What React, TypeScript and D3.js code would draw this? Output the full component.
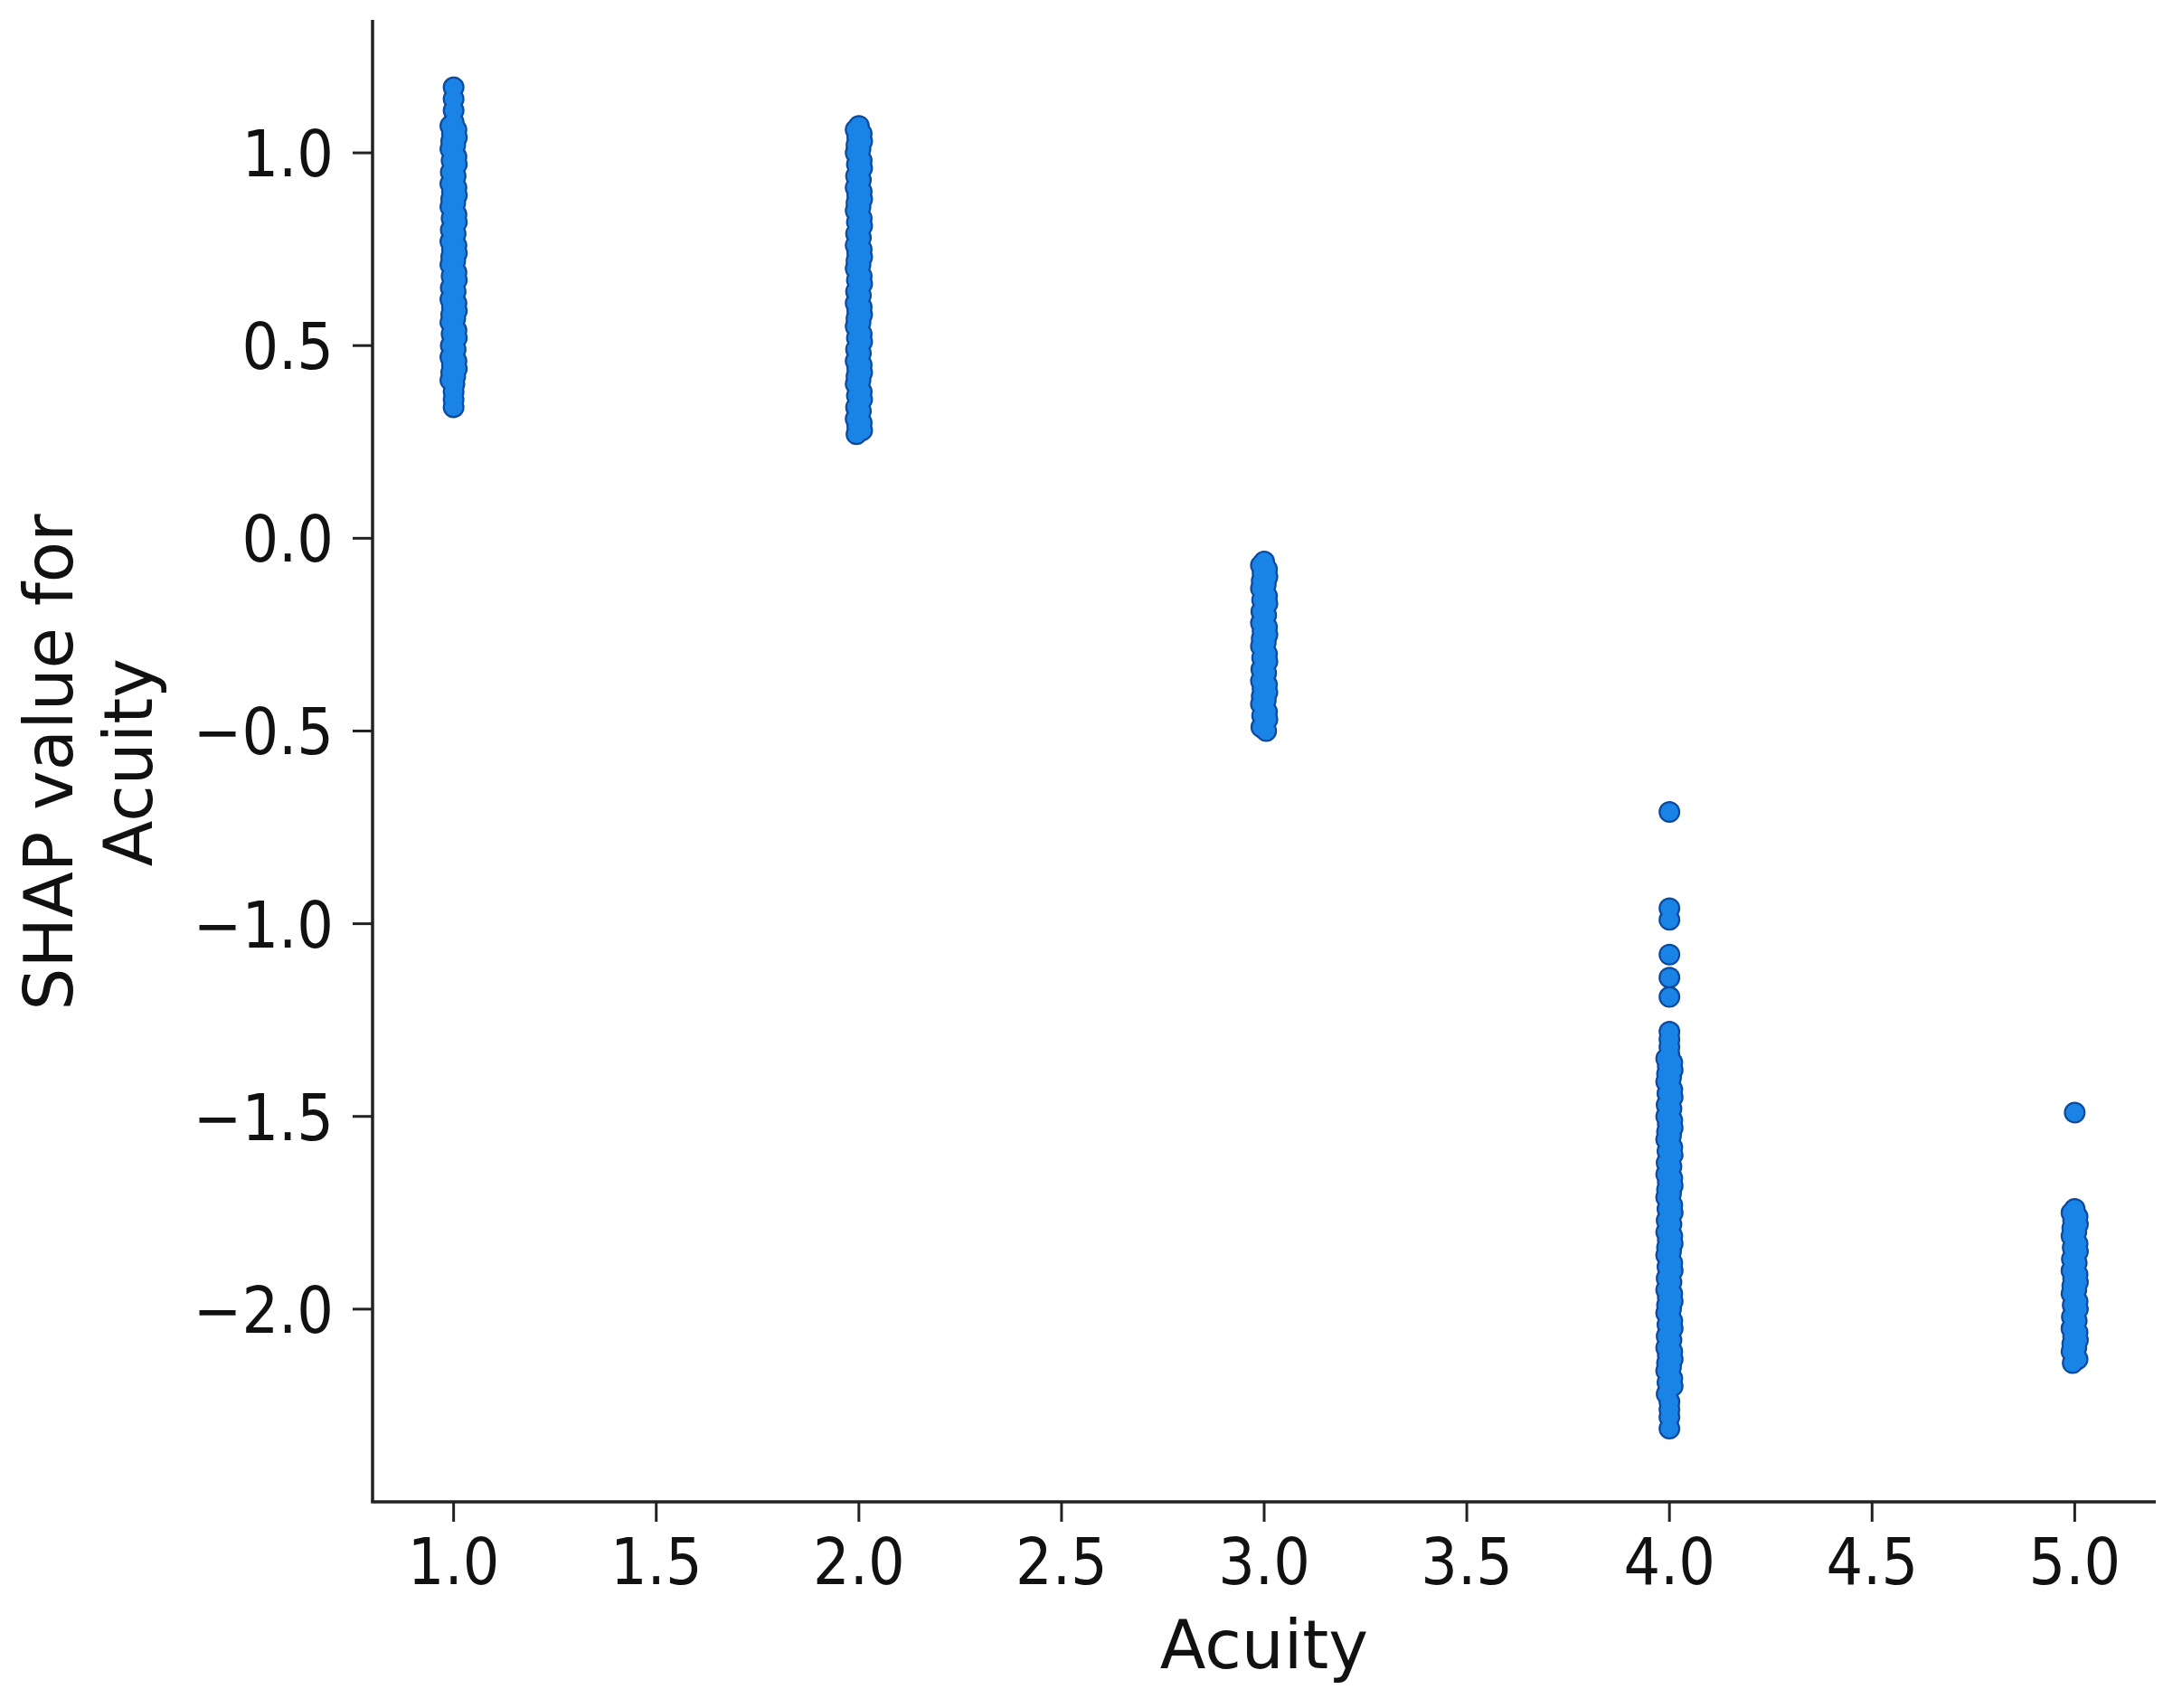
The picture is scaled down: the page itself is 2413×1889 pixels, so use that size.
import React from "react";
import * as d3 from "d3";

// ---- data ----
const xTicks = [1.0, 1.5, 2.0, 2.5, 3.0, 3.5, 4.0, 4.5, 5.0];
const yTicks = [1.0, 0.5, 0.0, -0.5, -1.0, -1.5, -2.0];

// dense (slightly scattered) parts of each column
const acuity1Dense = [
  1.08, 1.07, 1.06, 1.05, 1.04, 1.03, 1.02, 1.01, 1.0, 0.99, 0.98, 0.97, 0.96, 0.95, 0.94, 0.93, 0.92, 0.91, 0.9, 0.89,
  0.88, 0.87, 0.86, 0.85, 0.84, 0.83, 0.82, 0.81, 0.8, 0.79, 0.78, 0.77, 0.76, 0.75, 0.74, 0.73, 0.72, 0.71, 0.7, 0.69,
  0.68, 0.67, 0.66, 0.65, 0.64, 0.63, 0.62, 0.61, 0.6, 0.59, 0.58, 0.57, 0.56, 0.55, 0.54, 0.53, 0.52, 0.51, 0.5, 0.49,
  0.48, 0.47, 0.46, 0.45, 0.44, 0.43, 0.42, 0.41, 0.4,
];
const acuity1Sparse = [1.17, 1.14, 1.11, 0.38, 0.36, 0.34];

const acuity2Dense = [
  1.07, 1.06, 1.05, 1.04, 1.03, 1.02, 1.01, 1.0, 0.99, 0.98, 0.97, 0.96, 0.95, 0.94, 0.93, 0.92, 0.91, 0.9, 0.89, 0.88,
  0.87, 0.86, 0.85, 0.84, 0.83, 0.82, 0.81, 0.8, 0.79, 0.78, 0.77, 0.76, 0.75, 0.74, 0.73, 0.72, 0.71, 0.7, 0.69, 0.68,
  0.67, 0.66, 0.65, 0.64, 0.63, 0.62, 0.61, 0.6, 0.59, 0.58, 0.57, 0.56, 0.55, 0.54, 0.53, 0.52, 0.51, 0.5, 0.49, 0.48,
  0.47, 0.46, 0.45, 0.44, 0.43, 0.42, 0.41, 0.4, 0.39, 0.38, 0.37, 0.36, 0.35, 0.34, 0.33, 0.32, 0.31, 0.3, 0.29, 0.28,
  0.27,
];
const acuity2Sparse: number[] = [];

const acuity3Dense = [
  -0.06, -0.07, -0.08, -0.09, -0.1, -0.11, -0.12, -0.13, -0.14, -0.15, -0.16, -0.17, -0.18, -0.19, -0.2, -0.21, -0.22,
  -0.23, -0.24, -0.25, -0.26, -0.27, -0.28, -0.29, -0.3, -0.31, -0.32, -0.33, -0.34, -0.35, -0.36, -0.37, -0.38, -0.39,
  -0.4, -0.41, -0.42, -0.43, -0.44, -0.45, -0.46, -0.47, -0.48, -0.49, -0.5,
];
const acuity3Sparse: number[] = [];

const acuity4Dense = [
  -1.34, -1.35, -1.36, -1.37, -1.38, -1.39, -1.4, -1.41, -1.42, -1.43, -1.44, -1.45, -1.46, -1.47, -1.48, -1.49, -1.5,
  -1.51, -1.52, -1.53, -1.54, -1.55, -1.56, -1.57, -1.58, -1.59, -1.6, -1.61, -1.62, -1.63, -1.64, -1.65, -1.66, -1.67,
  -1.68, -1.69, -1.7, -1.71, -1.72, -1.73, -1.74, -1.75, -1.76, -1.77, -1.78, -1.79, -1.8, -1.81, -1.82, -1.83, -1.84,
  -1.85, -1.86, -1.87, -1.88, -1.89, -1.9, -1.91, -1.92, -1.93, -1.94, -1.95, -1.96, -1.97, -1.98, -1.99, -2.0, -2.01,
  -2.02, -2.03, -2.04, -2.05, -2.06, -2.07, -2.08, -2.09, -2.1, -2.11, -2.12, -2.13, -2.14, -2.15, -2.16, -2.17, -2.18,
  -2.19, -2.2, -2.21, -2.22,
];
const acuity4Sparse = [-0.71, -0.96, -0.99, -1.08, -1.14, -1.19, -1.28, -1.3, -1.32, -2.24, -2.26, -2.28, -2.31];

const acuity5Dense = [
  -1.74, -1.75, -1.76, -1.77, -1.78, -1.79, -1.8, -1.81, -1.82, -1.83, -1.84, -1.85, -1.86, -1.87, -1.88, -1.89, -1.9,
  -1.91, -1.92, -1.93, -1.94, -1.95, -1.96, -1.97, -1.98, -1.99, -2.0, -2.01, -2.02, -2.03, -2.04, -2.05, -2.06, -2.07,
  -2.08, -2.09, -2.1, -2.11, -2.12, -2.13, -2.14,
];
const acuity5Sparse = [-1.49];

const acuityLevels = [1, 2, 3, 4, 5];
const denseCols = [acuity1Dense, acuity2Dense, acuity3Dense, acuity4Dense, acuity5Dense];
const sparseCols = [acuity1Sparse, acuity2Sparse, acuity3Sparse, acuity4Sparse, acuity5Sparse];

// small horizontal scatter seen in the dense parts of the columns
const xJitter = [0, -0.008, 0.007, -0.004, 0.008, -0.006, 0.004, -0.008, 0.002, 0.007, -0.005, 0.008, -0.002, -0.007, 0.005];

// ---- layout ----
const W = 2413;
const H = 1889;
const LEFT = 412;
const RIGHT = 2384;
const TOP = 22;
const BOTTOM = 1661;

const FILL = "#1a84e6";
const EDGE = "#0c4a9e";
const AXIS = "#222";
const FONT = "'DejaVu Sans', sans-serif";

export default function App() {
  const x = d3.scaleLinear().domain([0.8, 5.2]).range([LEFT, RIGHT]);
  const y = d3.scaleLinear().domain([-2.5, 1.345]).range([BOTTOM, TOP]);

  const points: { x: number; y: number }[] = [];
  acuityLevels.forEach((lvl, i) => {
    denseCols[i].forEach((v, j) => {
      points.push({ x: lvl + xJitter[j % xJitter.length], y: v });
    });
    sparseCols[i].forEach((v) => points.push({ x: lvl, y: v }));
  });

  const fmt = (v: number) => (v < 0 ? "\u2212" : "") + Math.abs(v).toFixed(1);

  return (
    <svg
      width={W}
      height={H}
      style={{ position: "absolute", left: 0, top: 0, background: "#fff" }}
      fontFamily={FONT}
    >
      <rect x={0} y={0} width={W} height={H} fill="#fff" />
      {/* edge layer */}
      <g>
        {points.map((p, i) => (
          <circle key={"e" + i} cx={x(p.x)} cy={y(p.y)} r={12} fill={EDGE} />
        ))}
      </g>
      {/* fill layer */}
      <g>
        {points.map((p, i) => (
          <circle key={"f" + i} cx={x(p.x)} cy={y(p.y)} r={9.8} fill={FILL} />
        ))}
      </g>

      {/* spines */}
      <line x1={LEFT} x2={LEFT} y1={TOP} y2={BOTTOM} stroke={AXIS} strokeWidth={3.5} />
      <line x1={LEFT - 1.75} x2={RIGHT} y1={BOTTOM} y2={BOTTOM} stroke={AXIS} strokeWidth={3.5} />

      {/* x ticks */}
      {xTicks.map((t) => (
        <g key={"xt" + t}>
          <line x1={x(t)} x2={x(t)} y1={BOTTOM} y2={BOTTOM + 22} stroke={AXIS} strokeWidth={3} />
          <text
            transform={`translate(${x(t)},1752) scale(0.9,1)`}
            textAnchor="middle"
            fontSize={71}
            fill="#111"
          >
            {fmt(t)}
          </text>
        </g>
      ))}

      {/* y ticks */}
      {yTicks.map((t) => (
        <g key={"yt" + t}>
          <line x1={LEFT - 22} x2={LEFT} y1={y(t)} y2={y(t)} stroke={AXIS} strokeWidth={3} />
          <text
            transform={`translate(369,${y(t) + 26}) scale(0.9,1)`}
            textAnchor="end"
            fontSize={71}
            fill="#111"
          >
            {fmt(t)}
          </text>
        </g>
      ))}

      {/* axis titles */}
      <text x={(LEFT + RIGHT) / 2} y={1845} textAnchor="middle" fontSize={74} fill="#111">
        Acuity
      </text>
      <text transform={`translate(80,843) rotate(-90)`} textAnchor="middle" fontSize={74} fill="#111">
        SHAP value for
      </text>
      <text transform={`translate(168,843) rotate(-90)`} textAnchor="middle" fontSize={74} fill="#111">
        Acuity
      </text>
    </svg>
  );
}
